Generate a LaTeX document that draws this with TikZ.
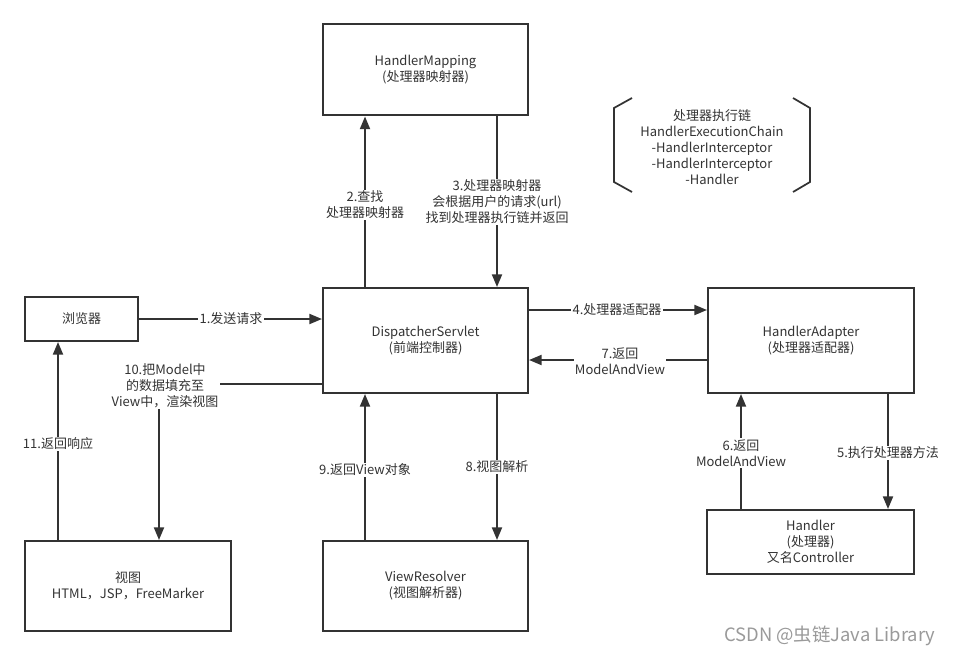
\documentclass[tikz,border=0pt]{standalone}
\usepackage{fontspec}
\setmainfont{Noto Sans CJK SC}
\usetikzlibrary{arrows.meta}
\definecolor{ln}{HTML}{333333}
\definecolor{txt}{HTML}{333333}
\definecolor{wmc}{HTML}{9A9A9A}
\begin{document}
\begin{tikzpicture}[x=0.75pt,y=-0.75pt,
  every node/.style={font=\fontsize{9.75}{12}\selectfont},
  box/.style={draw=ln,line width=1.5pt,fill=white,align=center,text=txt,inner sep=0pt},
  lbl/.style={fill=white,align=center,text=txt,inner sep=1pt},
  arr/.style={draw=ln,line width=1.5pt,-{Triangle[length=9.5pt,width=7.5pt]}},
  plain/.style={draw=ln,line width=1.5pt},
  brk/.style={draw=ln,line width=1.3pt}]
\useasboundingbox (0,0) rectangle (955,656);
\fill[white] (0,0) rectangle (955,656);

% boxes
\node[box,minimum width=153.75pt,minimum height=68.25pt] (hm) at (425.5,70) {HandlerMapping\\(处理器映射器)};
\node[box,minimum width=84.75pt,minimum height=33pt] (br) at (81.5,319) {浏览器};
\node[box,minimum width=153.75pt,minimum height=78.75pt] (ds) at (425.5,340.5) {DispatcherServlet\\(前端控制器)};
\node[box,minimum width=154.5pt,minimum height=78.75pt] (ha) at (811,340.5) {HandlerAdapter\\(处理器适配器)};
\node[box,minimum width=154.5pt,minimum height=67.5pt] (vw) at (128,586) {视图\\HTML，JSP，FreeMarker};
\node[box,minimum width=153.75pt,minimum height=67.5pt] (vr) at (425.5,586) {ViewResolver\\(视图解析器)};
\node[box,minimum width=155.25pt,minimum height=48pt] (hd) at (810.5,542) {Handler\\(处理器)\\又名Controller};

% chain bracket
\coordinate (bl1) at (632,98);
\coordinate (bl2) at (614,108);
\coordinate (bl3) at (614,182);
\coordinate (bl4) at (632,192);
\coordinate (br1) at (793,98);
\coordinate (br2) at (810,108);
\coordinate (br3) at (810,182);
\coordinate (br4) at (793,192);
\draw[brk] (bl1) -- (bl2) -- (bl3) -- (bl4);
\draw[brk] (br1) -- (br2) -- (br3) -- (br4);
\node[align=center,text=txt] (chain) at (712,147) {处理器执行链\\HandlerExecutionChain\\-HandlerInterceptor\\-HandlerInterceptor\\-Handler};

% guide coordinates
\coordinate (x2) at (365,0);
\coordinate (x3) at (497,0);
\coordinate (y4) at (0,310);
\coordinate (y7) at (0,360);
\coordinate (x5) at (888,0);
\coordinate (x6) at (741,0);
\coordinate (x11) at (58,0);
\coordinate (c10) at (159,384);

% connectors
\draw[arr] (br.east) -- (br.east -| ds.west);
\draw[arr] (x2 |- ds.north) -- (x2 |- hm.south);
\draw[arr] (x3 |- hm.south) -- (x3 |- ds.north);
\draw[arr] (ds.east |- y4) -- (ha.west |- y4);
\draw[arr] (ha.west |- y7) -- (ds.east |- y7);
\draw[arr] (x5 |- ha.south) -- (x5 |- hd.north);
\draw[arr] (x6 |- hd.north) -- (x6 |- ha.south);
\draw[arr] (x3 |- ds.south) -- (x3 |- vr.north);
\draw[arr] (x2 |- vr.north) -- (x2 |- ds.south);
\draw[arr] (ds.west |- c10) -- (c10) -- (c10 |- vw.north);
\draw[arr] (x11 |- vw.north) -- (x11 |- br.south);

% labels
\node[lbl] (l1) at (231,319) {1.发送请求};
\node[lbl] (l2) at (365,205) {2.查找\\处理器映射器};
\node[lbl] (l3) at (497,202) {3.处理器映射器\\会根据用户的请求(url)\\找到处理器执行链并返回};
\node[lbl] (l4) at (617,310) {4.处理器适配器};
\node[lbl] (l7) at (620,361) {7.返回\\ModelAndView};
\node[lbl] (l6) at (741,453) {6.返回\\ModelAndView};
\node[lbl] (l5) at (888,453) {5.执行处理器方法};
\node[lbl] (l8) at (497,467) {8.视图解析};
\node[lbl] (l9) at (365,470) {9.返回View对象};
\node[lbl] (l10) at (165,386) {10.把Model中\\的数据填充至\\View中，渲染视图};
\node[lbl] (l11) at (58,444) {11.返回响应};

% watermark
\node[text=wmc,font=\fontsize{13.8}{15}\selectfont,anchor=east] (wm) at (940,636) {CSDN @虫链Java Library};
\end{tikzpicture}
\end{document}
